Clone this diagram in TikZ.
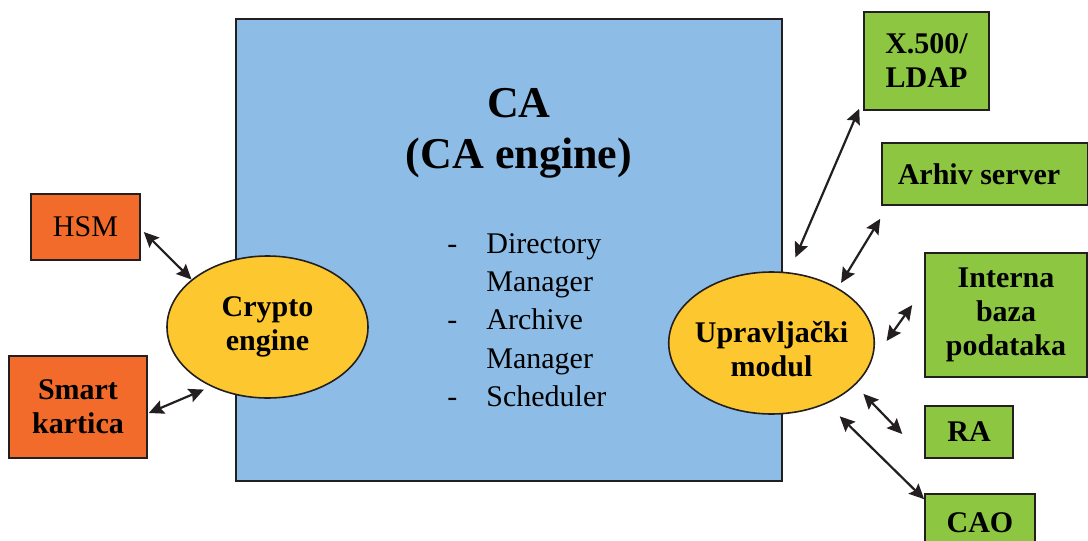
\documentclass[tikz,border=0pt]{standalone}
\usepackage{fontspec}
\setmainfont{Liberation Serif}
\usetikzlibrary{shapes.geometric,arrows.meta}

\definecolor{caBlue}{HTML}{8DBDE6}
\definecolor{keyOrange}{HTML}{F26B2A}
\definecolor{engYellow}{HTML}{FDC82F}
\definecolor{extGreen}{HTML}{8DC641}
\definecolor{inkDark}{HTML}{231F20}

\tikzset{
  box/.style={draw=inkDark,line width=0.8pt,rectangle,align=center,font=\fontsize{15}{17}\selectfont\bfseries},
  oval/.style={draw=inkDark,line width=0.8pt,ellipse,fill=engYellow,inner xsep=-2pt,inner ysep=0pt,align=center,font=\fontsize{15}{17}\selectfont\bfseries},
  link/.style={{Stealth[length=7.5pt,width=7pt,inset=1.2pt]}-{Stealth[length=7.5pt,width=7pt,inset=1.2pt]},line width=1.1pt,draw=inkDark},
}

\begin{document}
\begin{tikzpicture}[x=0.5pt,y=-0.5pt]
        \useasboundingbox (0,0) rectangle (1088,541);
        % CA block
        \node[draw=inkDark,line width=0.8pt,fill=caBlue,minimum width=273pt,minimum height=231pt] (ca) at (509,250) {};
        \node[align=center,anchor=north,inner sep=0pt,font=\fontsize{22}{25.5}\selectfont\bfseries] (title) at (519,88) {CA\\(CA engine)};
        \node[anchor=base west,inner sep=0pt,font=\fontsize{15}{19.2}\selectfont] (tasks) at (447,253) {\begin{tabular}[t]{@{}l@{\hspace{14.5pt}}l@{}}-&Directory\\ &Manager\\-&Archive\\ &Manager\\-&Scheduler\end{tabular}};
        % left side
        \node[box,fill=keyOrange,font=\fontsize{15}{17}\selectfont,minimum width=54.5pt,minimum height=33pt] (hsm) at (85.5,227) {HSM};
        \node[box,fill=keyOrange,minimum width=69pt,minimum height=51pt] (smart) at (78,407) {Smart\\kartica};
        \node[oval,minimum width=100.5pt,minimum height=71pt] (crypto) at (267.5,327) {Crypto\\engine};
        % right side
        \node[oval,minimum width=100.5pt,minimum height=71pt] (upr) at (771.5,343) {\rule{0pt}{17pt}Upravljački\\modul};
        \node[box,fill=extGreen,minimum width=62.5pt,minimum height=49pt] (ldap) at (926.5,61) {X.500/\\LDAP};
        \node[box,fill=extGreen,minimum width=103pt,minimum height=31pt] (arhiv) at (985,174) {Arhiv server\hspace*{6pt}};
        \node[box,fill=extGreen,minimum width=81pt,minimum height=62pt] (interna) at (1006,315) {Interna\\baza\\podataka};
        \node[box,fill=extGreen,minimum width=44pt,minimum height=26pt] (ra) at (969,432) {RA};
        \node[box,fill=extGreen,minimum width=55pt,minimum height=29pt] (cao) at (980,523) {CAO};
        % links
        \draw[link] ([shift={(3,5)}]hsm.east) -- (crypto.148);
        \draw[link] ([shift={(1,6)}]smart.east) -- ([shift={(-5,4)}]crypto.225);
        \draw[link] ([shift={(-4,-2)}]ldap.south west) -- ([shift={(5,-15)}]upr.75);
        \draw[link] ([shift={(-1,13)}]arhiv.south west) -- ([shift={(5,-4)}]upr.41);
        \draw[link] ([shift={(-12,-10)}]interna.west) -- ([shift={(11.5,-2)}]upr.east);
        \draw[link] ([shift={(11,6)}]upr.-29) -- ([shift={(-22,2)}]ra.west);
        \draw[link] ([shift={(12,13)}]upr.-47) -- ([shift={(0,6)}]cao.north west);
\end{tikzpicture}
\end{document}
